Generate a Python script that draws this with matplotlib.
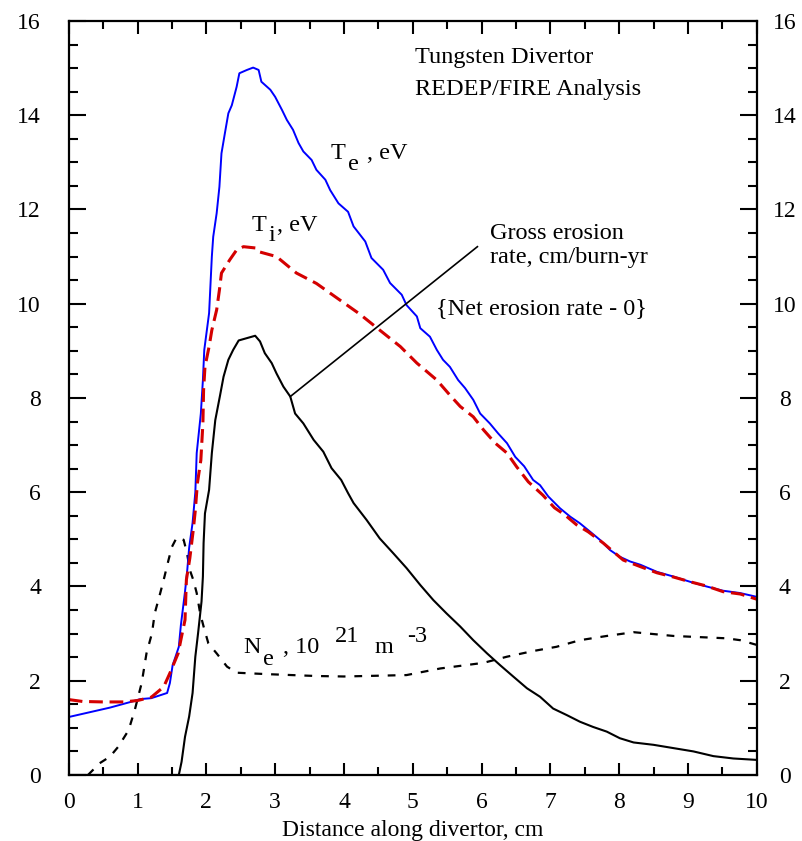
import matplotlib
matplotlib.use('Agg')
from matplotlib import pyplot as plt
from matplotlib.ticker import MultipleLocator

plt.rcParams['font.family'] = ['Liberation Serif', 'DejaVu Serif']

# electron temperature, eV
te_x = [0, 0.3, 0.6, 0.9, 1.04, 1.2, 1.43, 1.47, 1.51, 1.55, 1.60, 1.63, 1.69, 1.72, 1.75,
        1.80, 1.84, 1.86, 1.92, 1.95, 1.97, 2.04, 2.06, 2.08, 2.10, 2.15, 2.19, 2.22, 2.27,
        2.32, 2.37, 2.44, 2.48, 2.59, 2.68, 2.76, 2.80, 2.93, 3.0, 3.10, 3.17, 3.26, 3.34,
        3.41, 3.53, 3.60, 3.73, 3.80, 3.92, 4.06, 4.14, 4.31, 4.40, 4.57, 4.67, 4.84, 4.91,
        5.06, 5.11, 5.25, 5.35, 5.44, 5.54, 5.66, 5.76, 5.88, 5.98, 6.12, 6.24, 6.37, 6.49,
        6.62, 6.75, 6.85, 6.97, 7.14, 7.29, 7.43, 7.58, 7.72, 7.87, 8.01, 8.16, 8.31, 8.55,
        8.79, 9.03, 9.27, 9.51, 9.76, 10]
te_y = [1.23, 1.33, 1.43, 1.55, 1.61, 1.63, 1.74, 1.95, 2.33, 2.5, 2.72, 3.18, 3.89, 4.3, 4.82,
        5.35, 6.0, 6.83, 7.67, 8.38, 9.02, 9.80, 10.4, 11.0, 11.42, 11.92, 12.48, 13.19, 13.62,
        14.04, 14.21, 14.6, 14.89, 14.96, 15.01, 14.96, 14.71, 14.54, 14.39, 14.11, 13.9, 13.69, 13.41,
        13.23, 13.05, 12.84, 12.63, 12.41, 12.13, 11.95, 11.64, 11.32, 10.97, 10.72, 10.44, 10.19, 9.97,
        9.73, 9.48, 9.30, 9.02, 8.81, 8.66, 8.38, 8.21, 7.96, 7.67, 7.46, 7.25, 7.04, 6.75,
        6.55, 6.26, 6.15, 5.91, 5.66, 5.48, 5.34, 5.16, 4.99, 4.77, 4.63, 4.53, 4.46, 4.31,
        4.21, 4.10, 4.00, 3.91, 3.86, 3.78]

# ion temperature, eV
ti_x = [0, 0.2, 0.5, 0.8, 1.0, 1.2, 1.38, 1.47, 1.59, 1.64, 1.69, 1.71, 1.76, 1.81, 1.84,
        1.87, 1.92, 1.95, 1.96, 1.98, 2.04, 2.08, 2.15, 2.19, 2.22, 2.34, 2.44, 2.54, 2.73,
        2.77, 3.02, 3.31, 3.60, 3.90, 4.23, 4.52, 4.82, 5.06, 5.35, 5.54, 5.69, 5.88, 6.03,
        6.20, 6.37, 6.51, 6.68, 6.89, 7.06, 7.21, 7.38, 7.55, 7.77, 7.89, 8.06, 8.31, 8.55,
        8.79, 9.03, 9.27, 9.51, 9.76, 10]
ti_y = [1.6, 1.56, 1.55, 1.55, 1.58, 1.65, 1.87, 2.16, 2.58, 2.94, 3.29, 4.14, 4.6, 5.2, 5.62,
        6.19, 6.68, 7.46, 8.17, 8.66, 9.09, 9.44, 9.87, 10.29, 10.65, 10.93, 11.14, 11.21, 11.18,
        11.10, 11.0, 10.65, 10.43, 10.12, 9.78, 9.44, 9.09, 8.74, 8.38, 8.06, 7.82, 7.60, 7.32,
        7.04, 6.83, 6.54, 6.22, 5.94, 5.67, 5.52, 5.31, 5.16, 4.92, 4.77, 4.56, 4.42, 4.29,
        4.20, 4.10, 4.01, 3.89, 3.84, 3.73]

# gross erosion rate, cm/burn-yr
gr_x = [0, 1.6, 1.64, 1.69, 1.75, 1.80, 1.84, 1.88, 1.93, 1.95, 1.96, 1.98, 2.04, 2.08, 2.13,
        2.20, 2.25, 2.32, 2.39, 2.47, 2.59, 2.71, 2.78, 2.85, 2.95, 3.02, 3.12, 3.22, 3.29,
        3.41, 3.56, 3.70, 3.82, 3.96, 4.06, 4.14, 4.33, 4.52, 4.72, 4.91, 5.11, 5.30, 5.49,
        5.69, 5.88, 6.08, 6.27, 6.46, 6.66, 6.85, 7.04, 7.24, 7.43, 7.62, 7.82, 8.01, 8.21,
        8.50, 8.79, 9.08, 9.37, 9.66, 10]
gr_y = [0, 0, 0.28, 0.81, 1.24, 1.74, 2.51, 3.01, 3.68, 4.21, 4.92, 5.55, 6.05, 6.83, 7.53,
        8.06, 8.45, 8.81, 9.02, 9.22, 9.27, 9.32, 9.20, 8.95, 8.74, 8.52, 8.24, 8.03, 7.67,
        7.46, 7.11, 6.86, 6.51, 6.26, 5.98, 5.77, 5.41, 5.02, 4.70, 4.39, 4.03, 3.71, 3.43,
        3.15, 2.86, 2.58, 2.33, 2.09, 1.84, 1.66, 1.41, 1.27, 1.13, 1.02, 0.92, 0.78, 0.69,
        0.64, 0.57, 0.50, 0.40, 0.35, 0.32]

# electron density, 10^21 m^-3
ne_x = [0.28, 0.45, 0.60, 0.72, 0.87, 0.96, 1.06, 1.13, 1.21, 1.25, 1.33, 1.38, 1.45, 1.50,
        1.57, 1.67, 1.72, 1.76, 1.81, 1.86, 1.91, 1.96, 2.03, 2.15, 2.30, 2.44, 2.88, 3.60,
        4.0, 4.91, 5.40, 6.03, 6.37, 6.75, 7.09, 7.43, 7.82, 8.21, 8.79, 9.56, 9.76, 10]
ne_y = [0, 0.25, 0.39, 0.60, 0.95, 1.38, 1.95, 2.58, 3.01, 3.43, 3.86, 4.14, 4.56, 4.84,
        5.04, 4.99, 4.70, 4.35, 4.14, 3.86, 3.43, 3.15, 2.79, 2.58, 2.30, 2.17, 2.14, 2.10,
        2.09, 2.12, 2.26, 2.38, 2.51, 2.63, 2.72, 2.86, 2.95, 3.03, 2.95, 2.90, 2.86, 2.76]

# leader line from the erosion curve to its label
lead_x = [3.22, 5.94]
lead_y = [8.03, 11.21]

fig = plt.figure(figsize=(8.03, 8.41), dpi=100)
ax = fig.add_axes([0.0856, 0.0785, 0.8568, 0.8966])

ax.plot(ne_x, ne_y, color='black', lw=1.6, dashes=(3.5, 4))
ax.plot(gr_x, gr_y, color='black', lw=1.5)
ax.plot(te_x, te_y, color='#0000ff', lw=1.4)
ax.plot(ti_x, ti_y, color='#d40000', lw=2.2, dashes=(4.5, 2.2))
ax.plot(lead_x, lead_y, color='black', lw=1.2)

ax.set_xlim(0, 10)
ax.set_ylim(0, 16)
ax.xaxis.set_major_locator(MultipleLocator(1))
ax.xaxis.set_minor_locator(MultipleLocator(0.5))
ax.yaxis.set_major_locator(MultipleLocator(2))
ax.yaxis.set_minor_locator(MultipleLocator(0.5))

for s in ax.spines.values():
    s.set_linewidth(1.6)

ax.tick_params(axis='x', which='both', direction='in', top=True, width=1.5, labelsize=17, pad=12)
ax.tick_params(axis='x', which='major', length=9)
ax.tick_params(axis='x', which='minor', length=5.5)
ax.tick_params(axis='y', which='both', direction='in', right=True, labelright=True, width=1.5,
               labelsize=17)
ax.tick_params(axis='y', which='major', length=12.5, pad=20)
ax.tick_params(axis='y', which='minor', length=6.3)

# right-hand labels sit centred a bit off the spine
for t in ax.yaxis.get_major_ticks():
    t.label2.set_horizontalalignment('center')

ax.set_xlabel('Distance along divertor, cm', fontsize=17, labelpad=5)

fs = 17.5
ax.text(5.03, 15.10, 'Tungsten Divertor', fontsize=fs)
ax.text(5.03, 14.42, 'REDEP/FIRE Analysis', fontsize=fs)
ax.text(6.13, 11.37, 'Gross erosion', fontsize=fs)
ax.text(6.13, 10.86, 'rate, cm/burn-yr', fontsize=fs)
ax.text(5.34, 9.78, '{Net erosion rate - 0}', fontsize=fs)

# T_e , eV
ax.text(3.80, 13.07, 'T', fontsize=fs)
ax.text(4.06, 12.83, 'e', fontsize=fs)
ax.text(4.34, 13.07, ', eV', fontsize=fs)
# T_i, eV
ax.text(2.66, 11.54, 'T', fontsize=fs)
ax.text(2.90, 11.32, 'i', fontsize=fs)
ax.text(3.03, 11.54, ', eV', fontsize=fs)
# N_e , 10^21 m^-3
ax.text(2.53, 2.59, 'N', fontsize=fs)
ax.text(2.83, 2.33, 'e', fontsize=fs)
ax.text(3.12, 2.59, ', 10', fontsize=fs)
ax.text(3.87, 2.82, '21', fontsize=fs)
ax.text(4.45, 2.59, 'm', fontsize=fs)
ax.text(4.92, 2.82, '-3', fontsize=fs)

fig.savefig('out.png', dpi=100)
